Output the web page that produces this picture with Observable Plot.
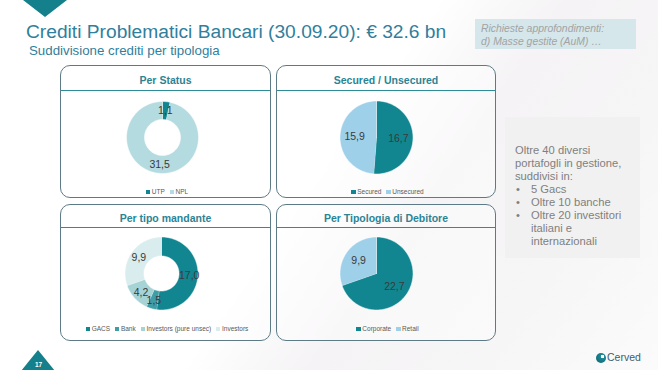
<!DOCTYPE html>
<html><head><meta charset="utf-8">
<script src="https://cdn.jsdelivr.net/npm/d3@7"></script>
<script src="https://cdn.jsdelivr.net/npm/@observablehq/plot@0.6"></script>
<style>
html,body{margin:0;padding:0;}
body{width:658px;height:370px;overflow:hidden;font-family:"Liberation Sans",Arial,sans-serif;}
#slide{position:relative;width:658px;height:370px;overflow:hidden;
 background:linear-gradient(125deg,#ffffff 0%,#ffffff 48%,#f5f3f5 62%,#f7f6f7 80%,#fbfbfb 100%);}
.abs{position:absolute;}
.panel{position:absolute;border:1px solid #5d7b86;border-radius:10px;box-sizing:border-box;background:rgba(255,255,255,0.45);}
.ptitle{position:absolute;left:0;right:0;text-align:center;font-weight:bold;font-size:10.5px;color:#2b8494;}
.pline{position:absolute;left:0;right:0;border-top:1px solid #2c8c98;}
.legend{position:absolute;left:0;right:0;text-align:center;font-size:6.5px;color:#595959;white-space:nowrap;}
.sw{display:inline-block;width:4.5px;height:4.5px;margin:0 1.5px 0 3px;vertical-align:0px;}
</style></head>
<body><div id="slide"></div>
<script>
// ---- data ----
const statusKeys = ["UTP", "NPL"];
const statusValues = [1.1, 31.5];
const securedKeys = ["Secured", "Unsecured"];
const securedValues = [16.7, 15.9];
const mandanteKeys = ["GACS", "Bank", "Investors (pure unsec)", "Investors"];
const mandanteValues = [17.0, 1.5, 4.2, 9.9];
const debitoreKeys = ["Corporate", "Retail"];
const debitoreValues = [22.7, 9.9];
const totalLabel = "€ 32.6 bn";
const sideLines = ["Oltre 40 diversi", "portafogli in gestione,", "suddivisi in:"];
const sideBullets = [["5 Gacs"], ["Oltre 10 banche"], ["Oltre 20 investitori", "italiani e", "internazionali"]];

const teal = "#128690";
const fmt = v => d3.format(".1f")(v).replace(".", ",");

const slide = document.getElementById("slide");
function el(tag, cls, style, html) {
  const e = document.createElement(tag);
  if (cls) e.className = cls;
  if (style) e.setAttribute("style", style);
  if (html !== undefined) e.innerHTML = html;
  return e;
}

// header
slide.appendChild(el("div", "abs", "left:23px;top:0;width:0;height:0;border-left:22px solid transparent;border-right:22px solid transparent;border-top:17px solid #14808b;"));
slide.appendChild(el("div", "abs", "left:26px;top:21px;font-size:19.2px;color:#2f7f9d;white-space:nowrap;", "Crediti Problematici Bancari (30.09.20): " + totalLabel));
slide.appendChild(el("div", "abs", "left:29px;top:43px;font-size:13.3px;color:#2f7f9d;white-space:nowrap;", "Suddivisione crediti per tipologia"));
slide.appendChild(el("div", "abs", "left:475px;top:19px;width:161px;height:30px;background:#d5e7eb;"));
slide.appendChild(el("div", "abs", "left:481px;top:23px;font-size:10.4px;line-height:12.8px;font-style:italic;color:#a3a3a3;white-space:nowrap;", "Richieste approfondimenti:<br>d) Masse gestite (AuM) …"));

// side box
slide.appendChild(el("div", "abs", "left:505px;top:117px;width:135px;height:141px;background:#f1f1f1;"));
let sideHtml = sideLines.map(l => `<div>${l}</div>`).join("");
sideBullets.forEach(b => {
  sideHtml += `<div style="position:relative;padding-left:16px;"><span style="position:absolute;left:1px;">•</span>${b.join("<br>")}</div>`;
});
slide.appendChild(el("div", "abs", "left:515px;top:144px;font-size:11.2px;line-height:13px;color:#7f7f7f;white-space:nowrap;", sideHtml));

// footer
slide.appendChild(el("div", "abs", "left:21px;top:350px;width:0;height:0;border-left:17px solid transparent;border-right:17px solid transparent;border-bottom:21px solid #14808b;"));
slide.appendChild(el("div", "abs", "left:35px;top:361px;font-size:6.5px;font-weight:bold;color:#ffffff;", "17"));
slide.appendChild(el("div", "abs", "left:596px;top:353px;width:10px;height:10px;border-radius:50%;background:radial-gradient(circle at 65% 35%,#ffffff 0 18%,#1a8a96 22%,#0f5f6a 100%);"));
slide.appendChild(el("div", "abs", "left:607px;top:351px;font-size:10.5px;color:#3e5d69;", "Cerved"));

// pie builder using Plot scales
function pieChart(keys, values, colors, inner, labelR, R) {
  const W = 120, H = 96;
  const total = d3.sum(values);
  const pts = [], labs = [];
  let a = 0;
  keys.forEach((k, i) => {
    const a0 = a, a1 = a + values[i] / total * 2 * Math.PI;
    a = a1;
    const n = Math.max(3, Math.ceil((a1 - a0) / (2 * Math.PI) * 160));
    for (let j = 0; j <= n; j++) { const t = a0 + (a1 - a0) * j / n; pts.push({key: k, x: Math.sin(t), y: Math.cos(t)}); }
    if (inner > 0) {
      for (let j = n; j >= 0; j--) { const t = a0 + (a1 - a0) * j / n; pts.push({key: k, x: inner * Math.sin(t), y: inner * Math.cos(t)}); }
    } else pts.push({key: k, x: 0, y: 0});
    const m = (a0 + a1) / 2;
    labs.push({key: k, value: values[i], x: labelR * Math.sin(m), y: labelR * Math.cos(m)});
  });
  const chart = Plot.plot({
    width: W, height: H, margin: 0,
    style: {background: "transparent", overflow: "visible"},
    x: {axis: null, domain: [-1, 1], range: [W / 2 - R, W / 2 + R]},
    y: {axis: null, domain: [-1, 1], range: [H / 2 + R, H / 2 - R]},
    color: {domain: keys, range: colors},
    marks: [
      Plot.line(pts, {x: "x", y: "y", z: "key", fill: "key", stroke: "white", strokeWidth: 0.5, curve: "linear"}),
      Plot.text(labs, {x: "x", y: "y", text: d => fmt(d.value), fill: "#3a3a3a", fontSize: 10.5, fontFamily: "Liberation Sans, Arial, sans-serif"})
    ]
  });
  return {chart, W, H};
}

function panel(cfg) {
  const p = el("div", "panel", `left:${cfg.x}px;top:${cfg.y}px;width:${cfg.w}px;height:${cfg.h}px;`);
  p.appendChild(el("div", "ptitle", `top:${cfg.titleTop}px;`, cfg.title));
  p.appendChild(el("div", "pline", `top:${cfg.lineTop}px;`));
  slide.appendChild(p);
  const {chart, W, H} = pieChart(cfg.keys, cfg.values, cfg.colors, cfg.inner, cfg.labelR, cfg.R);
  const holder = el("div", "abs", `left:${cfg.cx - W / 2}px;top:${cfg.cy - H / 2}px;width:${W}px;height:${H}px;`);
  holder.appendChild(chart);
  slide.appendChild(holder);
  const leg = el("div", "legend", `left:${cfg.x}px;width:${cfg.w}px;top:${cfg.legY}px;`,
    cfg.keys.map((k, i) => `<span class="sw" style="background:${cfg.colors[i]}"></span>${k}`).join(" "));
  slide.appendChild(leg);
}

panel({x: 60, y: 65, w: 211, h: 133, title: "Per Status", titleTop: 8, lineTop: 24,
  keys: statusKeys, values: statusValues, colors: [teal, "#b4dbe0"], inner: 0.5, labelR: 0.76, R: 36,
  cx: 162, cy: 137, legY: 188});
panel({x: 276, y: 65, w: 220, h: 133, title: "Secured / Unsecured", titleTop: 8, lineTop: 24,
  keys: securedKeys, values: securedValues, colors: [teal, "#9fd0ea"], inner: 0, labelR: 0.6, R: 36.5,
  cx: 376, cy: 137, legY: 188});
panel({x: 60, y: 204, w: 211, h: 137, title: "Per tipo mandante", titleTop: 7, lineTop: 22,
  keys: mandanteKeys, values: mandanteValues, colors: [teal, "#3f9ea5", "#a6d3d5", "#d9edee"], inner: 0.48, labelR: 0.76, R: 36.5,
  cx: 161, cy: 273, legY: 325});
panel({x: 276, y: 204, w: 220, h: 137, title: "Per Tipologia di Debitore", titleTop: 7, lineTop: 22,
  keys: debitoreKeys, values: debitoreValues, colors: [teal, "#9fd0ea"], inner: 0, labelR: 0.6, R: 36.5,
  cx: 376, cy: 273, legY: 325});
</script>
</body></html>
